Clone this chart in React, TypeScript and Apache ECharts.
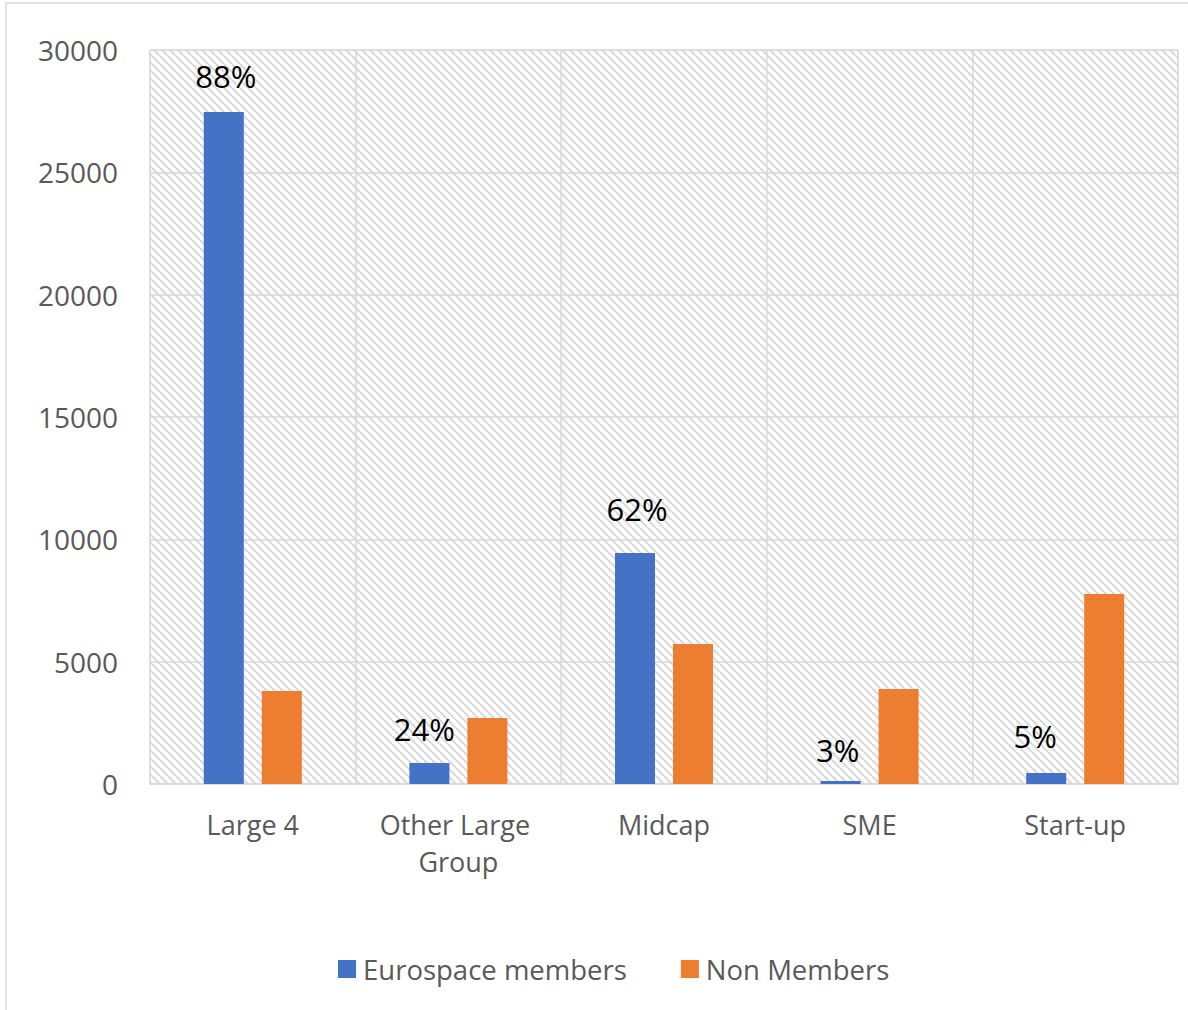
import React, { useEffect, useRef } from "react";
import * as echarts from "echarts";

const categories = ["Large 4", "Other Large Group", "Midcap", "SME", "Start-up"];
const seriesNames = ["Eurospace members", "Non Members"];
const membersValues = [27470, 860, 9440, 120, 450];
const nonMembersValues = [3800, 2700, 5720, 3880, 7770];
const shareLabels = ["88%", "24%", "62%", "3%", "5%"];
const yTicks = { min: 0, max: 30000, interval: 5000 };

// label nudges (styling only)
const labelOffsets: [number, number][] = [
  [2, -2],
  [-5, 0],
  [2, -11],
  [-3, 2],
  [-11, -3],
];

function makeHatch(): HTMLCanvasElement {
  const n = 8;
  const c = document.createElement("canvas");
  c.width = n;
  c.height = n;
  const ctx = c.getContext("2d")!;
  ctx.fillStyle = "#ffffff";
  ctx.fillRect(0, 0, n, n);
  ctx.strokeStyle = "#dadada";
  ctx.lineWidth = 2.2;
  for (const k of [-n, 0, n]) {
    ctx.beginPath();
    ctx.moveTo(k, 0);
    ctx.lineTo(k + n, n);
    ctx.stroke();
  }
  return c;
}

export default function App() {
  const ref = useRef<HTMLDivElement>(null);
  useEffect(() => {
    document.body.style.margin = "0";
    const chart = echarts.init(ref.current!, null, { renderer: "svg" });
    const font = "'Open Sans', sans-serif";
    chart.setOption({
      animation: false,
      backgroundColor: "#ffffff",
      textStyle: { fontFamily: font },
      grid: {
        left: 150,
        right: 10,
        top: 50,
        bottom: 226,
        show: true,
        backgroundColor: { image: makeHatch(), repeat: "repeat" },
        borderColor: "#d9d9d9",
        borderWidth: 1,
      },
      legend: {
        bottom: 22,
        left: 333,
        itemWidth: 18,
        itemHeight: 18,
        itemGap: 54,
        icon: "rect",
        data: seriesNames,
        textStyle: { fontFamily: font, fontSize: 27.5, color: "#595959", padding: [0, 0, 0, 2] },
      },
      xAxis: {
        type: "category",
        data: categories,
        axisTick: { show: false },
        axisLine: { show: true, lineStyle: { color: "#d9d9d9", width: 1.5 } },
        splitLine: { show: true, lineStyle: { color: "#d9d9d9", width: 1.5 } },
        axisLabel: {
          color: "#595959",
          fontSize: 27,
          fontFamily: font,
          margin: 22,
          lineHeight: 37,
          width: 200,
          overflow: "break",
          interval: 0,
        },
      },
      yAxis: {
        type: "value",
        min: yTicks.min,
        max: yTicks.max,
        interval: yTicks.interval,
        axisLine: { show: false },
        axisTick: { show: false },
        splitLine: { lineStyle: { color: "#d9d9d9", width: 1.5 } },
        axisLabel: {
          color: "#595959",
          fontSize: 28,
          fontFamily: font,
          margin: 32,
          formatter: (v: number) => String(v),
        },
      },
      graphic: [
        { type: "line", shape: { x1: 6, y1: 3, x2: 6, y2: 1010 }, style: { stroke: "#d9d9d9", lineWidth: 1.5 } },
        { type: "line", shape: { x1: 6, y1: 3, x2: 1188, y2: 3 }, style: { stroke: "#d9d9d9", lineWidth: 1.5 } },
      ],
      series: [
        {
          name: seriesNames[0],
          type: "bar",
          barWidth: 40,
          barGap: "45%",
          itemStyle: { color: "#4472C4" },
          data: membersValues.map((v, i) => ({
            value: v,
            label: {
              show: true,
              position: "top",
              distance: 18,
              offset: labelOffsets[i],
              formatter: shareLabels[i],
              color: "#000000",
              fontSize: 31,
              fontFamily: font,
            },
          })),
        },
        {
          name: seriesNames[1],
          type: "bar",
          barWidth: 40,
          barGap: "45%",
          itemStyle: { color: "#ED7D31" },
          data: nonMembersValues,
        },
      ],
    });
    return () => chart.dispose();
  }, []);
  return <div ref={ref} style={{ width: 1188, height: 1010 }} />;
}
